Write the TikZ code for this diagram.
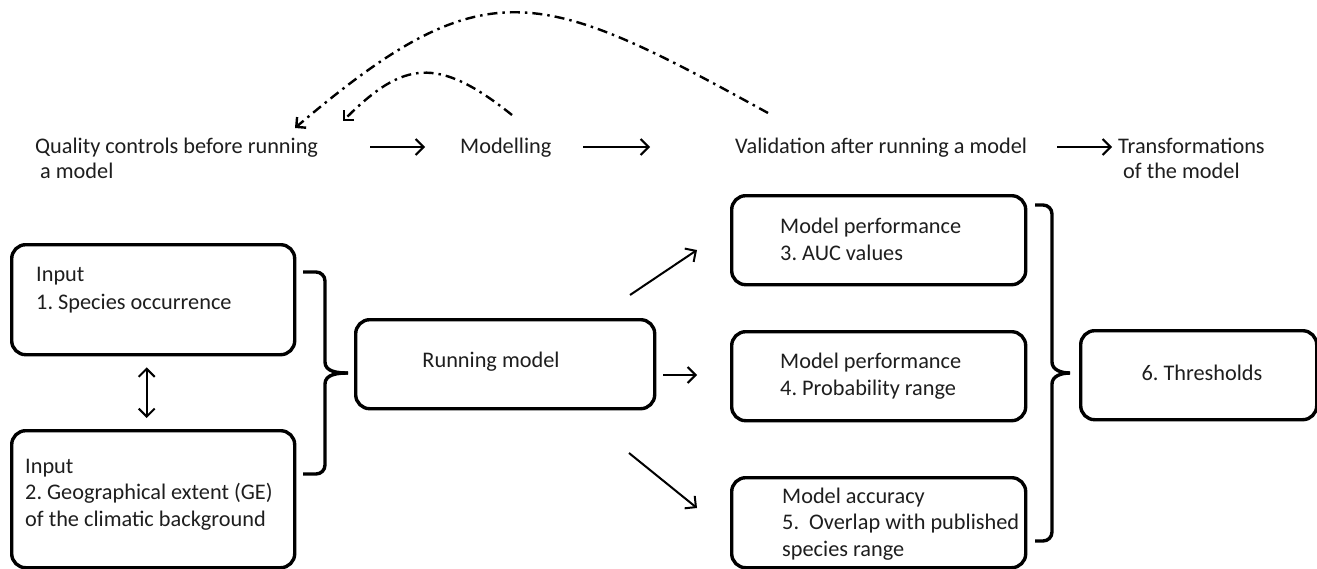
\documentclass[tikz,border=0pt]{standalone}
\usepackage{fontspec}
\setmainfont{Carlito}
\usetikzlibrary{arrows.meta,calc}
\definecolor{txt}{RGB}{30,30,30}
\frenchspacing
\begin{document}
\begin{tikzpicture}[x=1pt,y=-1pt,
  box/.style={draw=black,line width=3.4pt,rounded corners=14pt,fill=none,inner sep=0pt},
  lbl/.style={text=txt,font=\fontsize{22.3}{26.5}\selectfont,inner sep=0pt,align=left,anchor=base west},
  toplbl/.style={lbl,font=\fontsize{22.3}{25}\selectfont},
  arr/.style={line width=2pt,-{Straight Barb[length=8pt,width=16pt]}},
  darr/.style={line width=2pt,{Straight Barb[length=8pt,width=16pt]}-{Straight Barb[length=8pt,width=16pt]}},
  dd/.style={line width=2.4pt,dash pattern=on 10pt off 5pt on 2.5pt off 5pt,-{Straight Barb[length=7pt,width=14pt]}},
  brace/.style={line width=3.4pt,line join=round}]
\useasboundingbox (0,0) rectangle (1317,568);
\fill[white] (0,0) rectangle (1317,568);

% top labels (anchor = baseline of last line)
\node[toplbl] (qc) at (35,178) {Quality controls before running\\\hspace*{5pt}a model};
\node[toplbl] (mod) at (460,153) {Modelling};
\node[toplbl] (val) at (735,153) {Validation after running a model};
\node[toplbl] (tr) at (1118,178) {Transformations\\\hspace*{5pt}of the model};

\coordinate (a1s) at (370,147); \coordinate (a1e) at (425,147);
\coordinate (a2s) at (583,147); \coordinate (a2e) at (650,147);
\coordinate (a3s) at (1057,147); \coordinate (a3e) at (1112,147);
\draw[arr] (a1s) -- (a1e);
\draw[arr] (a2s) -- (a2e);
\draw[arr] (a3s) -- (a3e);

% feedback arcs
\coordinate (bigs) at (768,113); \coordinate (bige) at (295,128);
\coordinate (sms) at (512,115); \coordinate (sme) at (343,121);
\draw[dd] (bigs) .. controls (538,-13.5) and (485,-33.5) .. (bige);
\draw[dd] (sms) .. controls (437,55) and (403,61) .. (sme);

% boxes
\node[box,anchor=north west,minimum width=283pt,minimum height=110pt] (b1) at (10,243) {};
\node[box,anchor=north west,minimum width=283pt,minimum height=137pt] (b2) at (10,429) {};
\node[box,anchor=north west,minimum width=299pt,minimum height=89pt] (rm) at (354,318) {};
\node[box,anchor=north west,minimum width=294pt,minimum height=89pt] (b3) at (730,194) {};
\node[box,anchor=north west,minimum width=294pt,minimum height=89pt] (b4) at (730,330) {};
\node[box,anchor=north west,minimum width=294pt,minimum height=90pt] (b5) at (730,476) {};
\node[box,anchor=north west,minimum width=236pt,minimum height=89pt] (b6) at (1079,329) {};

% box texts (anchor = baseline of last line)
\node[lbl,font=\fontsize{22.3}{28}\selectfont] (t1) at (36,309) {Input\\1. Species occurrence};
\node[lbl] (t2) at (25,526) {Input\\2. Geographical extent (GE)\\of the climatic background};
\node[lbl,anchor=base] (trm) at (491,367) {Running model};
\node[lbl] (t3) at (780,260) {Model performance\\3. AUC values};
\node[lbl] (t4) at (780,395) {Model performance\\4. Probability range};
\node[lbl] (t5) at (782,556) {Model accuracy\\5.~~Overlap with published\\species range};
\node[lbl,anchor=base] (t6) at (1202,380) {6. Thresholds};

% double arrow between inputs
\draw[darr] ([xshift=-6.5pt,yshift=-11pt]b1.south) -- ([xshift=-6.5pt,yshift=11pt]b2.north);

% left brace
\coordinate (lbt) at (303,272); \coordinate (lbb) at (303,474); \coordinate (lbtip) at (348,373);
\draw[brace] (lbt) -- (316,272) to[out=0,in=90] (325,281) -- (325,362)
  to[out=-90,in=180] (lbtip);
\draw[brace] (lbb) -- (316,474) to[out=0,in=-90] (325,465) -- (325,384)
  to[out=90,in=180] (lbtip);

% right brace
\coordinate (rbt) at (1035,205); \coordinate (rbb) at (1035,541); \coordinate (rbtip) at (1070,373);
\draw[brace] (rbt) -- (1043,205) to[out=0,in=90] (1052,214) -- (1052,362)
  to[out=-90,in=180] (rbtip);
\draw[brace] (rbb) -- (1043,541) to[out=0,in=-90] (1052,532) -- (1052,384)
  to[out=90,in=180] (rbtip);

% arrows from running model
\coordinate (u1) at (630,295); \coordinate (u2) at (697,250);
\coordinate (m1) at (663,375); \coordinate (m2) at (697,375);
\coordinate (d1) at (629,453); \coordinate (d2) at (697,508);
\draw[arr] (u1) -- (u2);
\draw[arr] (m1) -- (m2);
\draw[arr] (d1) -- (d2);
\end{tikzpicture}
\end{document}
